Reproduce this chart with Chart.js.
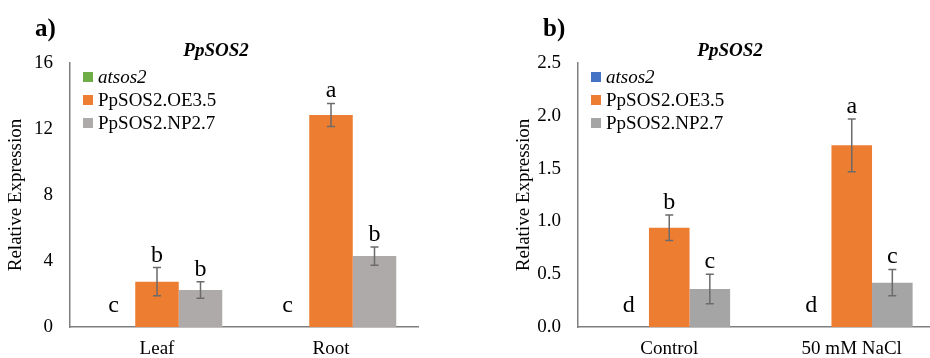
<!DOCTYPE html>
<html>
<head>
<meta charset="utf-8">
<script src="https://cdn.jsdelivr.net/npm/chart.js@4.4.1/dist/chart.umd.min.js"></script>
<style>
  html, body { margin: 0; padding: 0; background: #fff; overflow: hidden; }
  body { width: 930px; height: 358px; position: relative; }
  canvas { position: absolute; top: 0; }
  #panel-a { left: 0; }
  #panel-b { left: 508px; }
</style>
</head>
<body>
<canvas id="panel-a" width="465" height="358"></canvas>
<canvas id="panel-b" width="440" height="358"></canvas>
<script>
// --- DATA ---
const seriesNames = ["atsos2", "PpSOS2.OE3.5", "PpSOS2.NP2.7"];
const geneName = "PpSOS2";

// a) tissues
const tissueLabels = ["Leaf", "Root"];
const tissueMeans = [[0, 0], [2.75, 12.85], [2.25, 4.3]];
const tissueErrors = [[0, 0], [0.85, 0.7], [0.5, 0.55]];
const tissueLetters = [["c", "c"], ["b", "a"], ["b", "b"]];
const tissueTicks = [0, 4, 8, 12, 16];

// b) salt treatment
const treatmentLabels = ["Control", "50 mM NaCl"];
const treatmentMeans = [[0, 0], [0.94, 1.72], [0.36, 0.42]];
const treatmentErrors = [[0, 0], [0.12, 0.25], [0.14, 0.125]];
const treatmentLetters = [["d", "d"], ["b", "a"], ["c", "c"]];
const treatmentTicks = [0, 0.5, 1.0, 1.5, 2.0, 2.5];

const SERIF = "'Liberation Serif', 'Times New Roman', serif";
const AXIS_COLOR = "#7f7f7f";
const ERR_COLOR = "#6b6b6b";

function buildPanel(canvasId, opts) {
  const ctx = document.getElementById(canvasId).getContext("2d");

  // error bars, significance letters, legend and titles
  const annotate = {
    id: "annotate-" + canvasId,
    afterDatasetsDraw(chart) {
      const c = chart.ctx;
      const y = chart.scales.y;
      const base = y.getPixelForValue(0);
      c.save();
      opts.means.forEach((vals, i) => {
        const meta = chart.getDatasetMeta(i);
        vals.forEach((v, j) => {
          const bar = meta.data[j];
          const err = opts.errors[i][j];
          const top = y.getPixelForValue(v + err);
          if (err > 0) {
            const bot = y.getPixelForValue(v - err);
            c.strokeStyle = ERR_COLOR;
            c.lineWidth = 1.5;
            c.beginPath();
            c.moveTo(bar.x, top); c.lineTo(bar.x, bot);
            c.moveTo(bar.x - 4, top); c.lineTo(bar.x + 4, top);
            c.moveTo(bar.x - 4, bot); c.lineTo(bar.x + 4, bot);
            c.stroke();
          }
          c.fillStyle = "#000";
          c.font = "24px " + SERIF;
          c.textAlign = "center";
          c.textBaseline = "alphabetic";
          c.fillText(opts.letters[i][j], bar.x, Math.min(top - 6, base - 15));
        });
      });
      c.restore();
    },
    afterDraw(chart) {
      const c = chart.ctx;
      const area = chart.chartArea;
      c.save();
      // panel tag
      c.fillStyle = "#000";
      c.font = "bold 25px " + SERIF;
      c.textAlign = "left";
      c.textBaseline = "alphabetic";
      c.fillText(opts.tag, 35, 36);
      // gene title
      c.font = "italic bold 19px " + SERIF;
      c.textAlign = "center";
      c.fillText(geneName, opts.titleX, 56);
      // legend
      chart.data.datasets.forEach((ds, i) => {
        const cy = area.top + 14 + i * 23;
        c.fillStyle = ds.backgroundColor;
        c.fillRect(area.left + 13, cy - 5, 10, 10);
        c.fillStyle = "#000";
        c.font = (i === 0 ? "italic " : "") + "19px " + SERIF;
        c.textAlign = "left";
        c.textBaseline = "middle";
        c.fillText(ds.label, area.left + 28, cy + 1);
      });
      c.restore();
    },
  };

  const ticks = opts.ticks;
  return new Chart(ctx, {
    type: "bar",
    data: {
      labels: opts.labels,
      datasets: seriesNames.map((name, i) => ({
        label: name,
        data: opts.means[i],
        backgroundColor: opts.colors[i],
        borderWidth: 0,
        categoryPercentage: opts.groupWidth,
        barPercentage: 1.0,
      })),
    },
    options: {
      responsive: false,
      animation: false,
      devicePixelRatio: 1,
      layout: { padding: { top: 63, right: opts.rightPad, bottom: 0, left: 0 } },
      plugins: {
        legend: { display: false },
        title: { display: false },
        tooltip: { enabled: false },
      },
      scales: {
        x: {
          grid: { display: false, drawTicks: false },
          border: { display: true, color: AXIS_COLOR, width: 1.5 },
          ticks: { color: "#000", font: { family: SERIF, size: 19 }, padding: 11 },
          afterFit(scale) { scale.height = 31; },
        },
        y: {
          min: ticks[0],
          max: ticks[ticks.length - 1],
          grid: { display: false, drawTicks: false },
          border: { display: true, color: AXIS_COLOR, width: 1.5 },
          ticks: {
            stepSize: ticks[1] - ticks[0],
            color: "#000",
            font: { family: SERIF, size: 19 },
            padding: 17,
            callback: (v) => v.toFixed(opts.decimals),
          },
          title: {
            display: true,
            text: "Relative Expression",
            color: "#000",
            font: { family: SERIF, size: 19 },
            padding: { top: 5, bottom: 0 },
          },
          afterFit(scale) { scale.width = 70; },
        },
      },
    },
    plugins: [annotate],
  });
}

buildPanel("panel-a", {
  tag: "a)",
  titleX: 216,
  labels: tissueLabels,
  means: tissueMeans,
  errors: tissueErrors,
  letters: tissueLetters,
  ticks: tissueTicks,
  decimals: 0,
  colors: ["#70ad47", "#ed7d31", "#aeaaaa"],
  groupWidth: 0.75,
  rightPad: 47,
});

buildPanel("panel-b", {
  tag: "b)",
  titleX: 222,
  labels: treatmentLabels,
  means: treatmentMeans,
  errors: treatmentErrors,
  letters: treatmentLetters,
  ticks: treatmentTicks,
  decimals: 1,
  colors: ["#4472c4", "#ed7d31", "#a5a5a5"],
  groupWidth: 0.667,
  rightPad: 5,
});
</script>
</body>
</html>
